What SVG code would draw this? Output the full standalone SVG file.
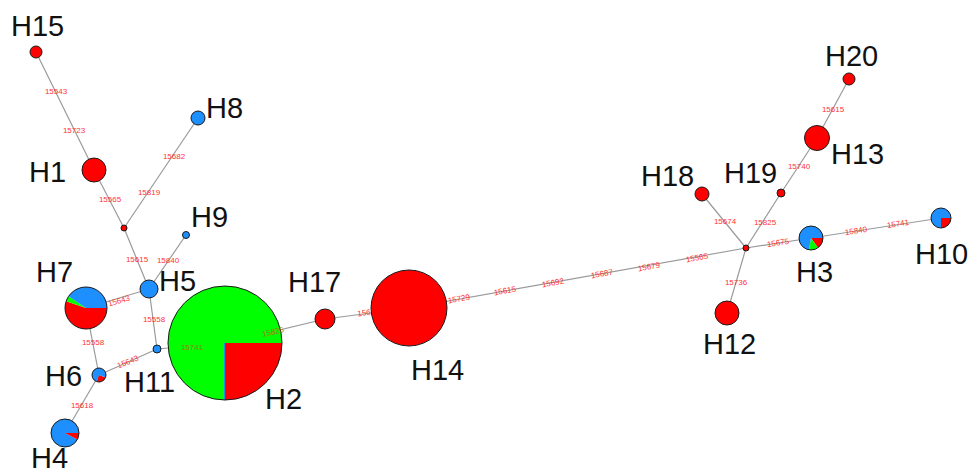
<svg xmlns="http://www.w3.org/2000/svg" width="970" height="474" viewBox="0 0 970 474">
  <style>
    .edge { stroke: #9a9a9a; stroke-width: 1.2; fill: none; }
    .node { stroke: #1a1a1a; stroke-width: 1; }
    .r { fill: #ff0000; }
    .g { fill: #00ff00; }
    .b { fill: #1e8fff; }
    .lbl { font-family: "Liberation Sans", Arial, sans-serif; font-size: 29px; fill: #111111; }
    .mut { font-family: "Liberation Sans", Arial, sans-serif; font-size: 8px; fill: #ff3333; text-anchor: middle; dominant-baseline: central; }
    .mut2 { fill: #a07818; }
  </style>

  <!-- connectors -->
  <g id="edges">
    <line class="edge" x1="36" y1="52" x2="94" y2="170"/>
    <line class="edge" x1="94" y1="170" x2="124" y2="228"/>
    <line class="edge" x1="198" y1="118" x2="124" y2="228"/>
    <line class="edge" x1="124" y1="228" x2="149" y2="289"/>
    <line class="edge" x1="186" y1="235" x2="149" y2="289"/>
    <line class="edge" x1="86" y1="308" x2="149" y2="289"/>
    <line class="edge" x1="149" y1="289" x2="157" y2="349"/>
    <line class="edge" x1="86" y1="308" x2="99" y2="375"/>
    <line class="edge" x1="99" y1="375" x2="157" y2="349"/>
    <line class="edge" x1="157" y1="349" x2="225" y2="343"/>
    <line class="edge" x1="99" y1="375" x2="65" y2="433"/>
    <line class="edge" x1="225" y1="343" x2="325" y2="319"/>
    <line class="edge" x1="325" y1="319" x2="409" y2="308"/>
    <line class="edge" x1="409" y1="308" x2="746" y2="248"/>
    <line class="edge" x1="746" y1="248" x2="727" y2="313"/>
    <line class="edge" x1="746" y1="248" x2="702" y2="194"/>
    <line class="edge" x1="746" y1="248" x2="781" y2="193"/>
    <line class="edge" x1="781" y1="193" x2="817" y2="138"/>
    <line class="edge" x1="817" y1="138" x2="849" y2="79"/>
    <line class="edge" x1="746" y1="248" x2="811" y2="238"/>
    <line class="edge" x1="811" y1="238" x2="941" y2="218"/>
  </g>

  <!-- mutation positions along the branches -->
  <g id="mutations">
    <text class="mut" x="56" y="91">15543</text>
    <text class="mut" x="74" y="130">15723</text>
    <text class="mut" x="110" y="199">15565</text>
    <text class="mut" x="149" y="192">15819</text>
    <text class="mut" x="174" y="156">15682</text>
    <text class="mut" x="137" y="259">15615</text>
    <text class="mut" x="168" y="260">15840</text>
    <text class="mut" x="119" y="301" transform="rotate(-16 119 301)">15643</text>
    <text class="mut" x="154" y="319">15558</text>
    <text class="mut" x="93" y="342">15558</text>
    <text class="mut" x="128" y="362" transform="rotate(-22 128 362)">15643</text>
    <text class="mut" x="82" y="405">15618</text>
    <text class="mut" x="364" y="313" transform="rotate(-8 364 313)">156</text>
    <text class="mut" x="459" y="299" transform="rotate(-10 459 299)">15729</text>
    <text class="mut" x="505" y="291" transform="rotate(-10 505 291)">15615</text>
    <text class="mut" x="553" y="283" transform="rotate(-10 553 283)">15692</text>
    <text class="mut" x="602" y="274" transform="rotate(-10 602 274)">15687</text>
    <text class="mut" x="649" y="267" transform="rotate(-10 649 267)">15679</text>
    <text class="mut" x="697" y="258" transform="rotate(-10 697 258)">15565</text>
    <text class="mut" x="736" y="282">15736</text>
    <text class="mut" x="725" y="221">15674</text>
    <text class="mut" x="765" y="222">15825</text>
    <text class="mut" x="799" y="166">15740</text>
    <text class="mut" x="833" y="109">15615</text>
    <text class="mut" x="778" y="243" transform="rotate(-9 778 243)">15675</text>
    <text class="mut" x="856" y="231" transform="rotate(-9 856 231)">15840</text>
    <text class="mut" x="898" y="224" transform="rotate(-9 898 224)">15741</text>
  </g>

  <!-- haplotype circles -->
  <g id="H15"><circle class="node r" cx="36" cy="52" r="6"/><text class="lbl" x="11" y="36">H15</text></g>
  <g id="H8"><circle class="node b" cx="198" cy="118" r="7"/><text class="lbl" x="206" y="118">H8</text></g>
  <g id="H1"><circle class="node r" cx="94" cy="170" r="12"/><text class="lbl" x="29" y="182">H1</text></g>
  <g id="mv1"><circle class="node r" cx="124" cy="228" r="3"/></g>
  <g id="H9"><circle class="node b" cx="186" cy="235" r="3.5"/><text class="lbl" x="191" y="227">H9</text></g>
  <g id="H5"><circle class="node b" cx="149" cy="289" r="9"/><text class="lbl" x="159" y="291">H5</text></g>
  <g id="H11"><circle class="node b" cx="157" cy="349" r="4"/><text class="lbl" x="124" y="392">H11</text></g>
  <g id="H7">
    <path class="r" d="M86,308 L107,308 A21,21 0 1 1 66.14,301.16 Z"/>
    <path class="g" d="M86,308 L66.14,301.16 A21,21 0 0 1 68.59,296.26 Z"/>
    <path class="b" d="M86,308 L68.59,296.26 A21,21 0 0 1 107,308 Z"/>
    <circle class="node" cx="86" cy="308" r="21" fill="none"/>
    <text class="lbl" x="36" y="282">H7</text>
  </g>
  <g id="H6">
    <path class="r" d="M99,375 L105.58,377.39 A7,7 0 0 1 96.61,381.58 Z"/>
    <path class="b" d="M99,375 L96.61,381.58 A7,7 0 1 1 105.58,377.39 Z"/>
    <circle class="node" cx="99" cy="375" r="7" fill="none"/>
    <text class="lbl" x="45" y="386">H6</text>
  </g>
  <g id="H4">
    <path class="b" d="M65,433 L77.36,439.57 A14,14 0 1 1 79,433 Z"/>
    <path class="r" d="M65,433 L79,433 A14,14 0 0 1 77.36,439.57 Z"/>
    <circle class="node" cx="65" cy="433" r="14" fill="none"/>
    <text class="lbl" x="31" y="468">H4</text>
  </g>
  <g id="H2">
    <path class="g" d="M225,343 L225,400 A57,57 0 1 1 282,343 Z"/>
    <path class="r" d="M225,343 L282,343 A57,57 0 0 1 225,400 Z"/>
    <line x1="224.6" y1="343" x2="224.6" y2="400" stroke="#1e8fff" stroke-width="1"/>
    <circle class="node" cx="225" cy="343" r="57" fill="none"/>
    <text class="mut mut2" x="192" y="347">15741</text>
    <text class="mut mut2" x="273" y="332" transform="rotate(-13 273 332)">15825</text>
    <text class="lbl" x="265" y="409">H2</text>
  </g>
  <g id="H17"><circle class="node r" cx="325" cy="319" r="10"/><text class="lbl" x="288" y="292">H17</text></g>
  <g id="H14"><circle class="node r" cx="409" cy="308" r="38"/><text class="lbl" x="411" y="380">H14</text></g>
  <g id="mv2"><circle class="node r" cx="746" cy="248" r="3"/></g>
  <g id="H12"><circle class="node r" cx="727" cy="313" r="12"/><text class="lbl" x="703" y="354">H12</text></g>
  <g id="H18"><circle class="node r" cx="702" cy="194" r="7"/><text class="lbl" x="641" y="186">H18</text></g>
  <g id="H19"><circle class="node r" cx="781" cy="193" r="4"/><text class="lbl" x="724" y="183">H19</text></g>
  <g id="H13"><circle class="node r" cx="817" cy="138" r="12.5"/><text class="lbl" x="831" y="164">H13</text></g>
  <g id="H20"><circle class="node r" cx="849" cy="79" r="6"/><text class="lbl" x="825" y="66">H20</text></g>
  <g id="H3">
    <path class="r" d="M811,238 L823,238 A12,12 0 0 1 817.88,247.83 Z"/>
    <path class="g" d="M811,238 L817.88,247.83 A12,12 0 0 1 808.92,249.82 Z"/>
    <path class="b" d="M811,238 L808.92,249.82 A12,12 0 1 1 823,238 Z"/>
    <circle class="node" cx="811" cy="238" r="12" fill="none"/>
    <text class="lbl" x="796" y="282">H3</text>
  </g>
  <g id="H10">
    <path class="r" d="M941,218 L951,218 A10,10 0 0 1 941,228 Z"/>
    <path class="b" d="M941,218 L941,228 A10,10 0 1 1 951,218 Z"/>
    <circle class="node" cx="941" cy="218" r="10" fill="none"/>
    <text class="lbl" x="915" y="264">H10</text>
  </g>
</svg>
